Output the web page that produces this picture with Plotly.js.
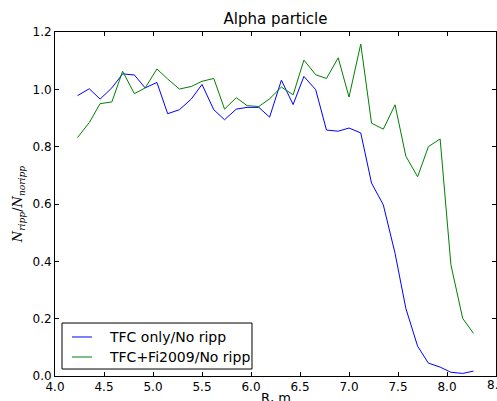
<!DOCTYPE html>
<html>
<head>
<meta charset="utf-8">
<script src="https://cdn.plot.ly/plotly-3.0.1.min.js"></script>
<style>html,body{margin:0;padding:0;background:#fff;}#chart{width:497px;height:401px;}</style>
</head>
<body>
<div id="chart"></div>
<script>
var R = [4.23,4.35,4.46,4.58,4.69,4.81,4.92,5.04,5.15,5.27,5.39,5.50,5.62,5.73,5.85,5.96,
         6.08,6.19,6.31,6.43,6.54,6.66,6.77,6.89,7.00,7.12,7.23,7.35,7.47,7.58,7.70,7.81,
         7.93,8.04,8.16,8.27];
var tfcOnly = [0.978,1.002,0.966,1.005,1.054,1.050,1.005,1.024,0.915,0.929,0.966,1.017,
               0.929,0.894,0.931,0.937,0.937,0.903,1.032,0.947,1.045,0.999,0.858,0.854,
               0.865,0.848,0.673,0.597,0.428,0.236,0.104,0.045,0.031,0.013,0.009,0.017];
var tfcFi = [0.832,0.884,0.950,0.956,1.063,0.985,1.005,1.071,1.036,1.001,1.010,1.028,
             1.038,0.931,0.971,0.943,0.940,0.967,1.008,0.981,1.102,1.051,1.038,1.110,
             0.973,1.158,0.882,0.861,0.946,0.767,0.695,0.800,0.827,0.388,0.201,0.149];
var names = ["TFC only/No ripp", "TFC+Fi2009/No ripp"];
var colors = ['#0000ff', '#008000'];
var xTicks = [4.0,4.5,5.0,5.5,6.0,6.5,7.0,7.5,8.0,8.5];
var xTickText = ['4.0','4.5','5.0','5.5','6.0','6.5','7.0','7.5','8.0','8.5'];
var yTicks = [0,0.2,0.4,0.6,0.8,1.0,1.2];
var yTickText = ['0.0','0.2','0.4','0.6','0.8','1.0','1.2'];
var xTitle = 'R, m';

var traces = [
  {x: R, y: tfcOnly, type: 'scatter', mode: 'lines', name: names[0],
   line: {color: colors[0], width: 1}},
  {x: R, y: tfcFi, type: 'scatter', mode: 'lines', name: names[1],
   line: {color: colors[1], width: 1}}
];
var axisCommon = {
  showgrid: false, zeroline: false, showline: true, linecolor: '#000', linewidth: 1,
  mirror: 'ticks', ticks: 'inside', ticklen: 4, tickcolor: '#000', tickwidth: 1,
  tickfont: {family: 'DejaVu Sans', size: 12, color: '#000'}
};

// manual legend (box, line samples, labels) in paper coordinates
var legRows = [0.1134, 0.0552];
var shapes = [{type: 'rect', xref: 'paper', yref: 'paper', x0: 0.0159, x1: 0.4467,
               y0: 0.0203, y1: 0.154, line: {color: '#000', width: 1}, fillcolor: '#fff',
               layer: 'above'}];
var annotations = [];
names.forEach(function (n, i) {
  shapes.push({type: 'line', xref: 'paper', yref: 'paper', x0: 0.0385, x1: 0.0839,
               y0: legRows[i], y1: legRows[i], line: {color: colors[i], width: 1}, layer: 'above'});
  annotations.push({text: n, xref: 'paper', yref: 'paper', x: 0.1179, y: legRows[i],
                    xanchor: 'left', yanchor: 'middle', showarrow: false,
                    font: {family: 'DejaVu Sans', size: 14, color: '#000'}});
});
// x-axis title placed below tick labels
annotations.push({text: xTitle, xref: 'paper', yref: 'paper', x: 0.5, y: 0,
                  xanchor: 'center', yanchor: 'middle', yshift: -21, showarrow: false,
                  font: {family: 'DejaVu Sans', size: 13, color: '#000'}});
// last tick label at the right edge (partly cut off, as in the reference)
annotations.push({text: xTickText[9], xref: 'x', yref: 'paper', x: xTicks[9], y: 0,
                  xanchor: 'center', yanchor: 'middle', yshift: -9, showarrow: false,
                  font: {family: 'DejaVu Sans', size: 12, color: '#000'}});

var layout = {
  width: 497, height: 401,
  margin: {l: 55, r: 1, t: 32, b: 25},
  paper_bgcolor: '#fff', plot_bgcolor: '#fff',
  showlegend: false,
  title: {text: 'Alpha particle', font: {family: 'DejaVu Sans', size: 15, color: '#000'},
          xref: 'paper', x: 0.5, xanchor: 'center', y: 0.952, yanchor: 'middle'},
  xaxis: Object.assign({}, axisCommon, {
    range: [4.0, 8.5], tickvals: xTicks.slice(0, 9), ticktext: xTickText.slice(0, 9)
  }),
  yaxis: Object.assign({}, axisCommon, {
    range: [0, 1.2], tickvals: yTicks, ticktext: yTickText,
    title: {text: '<i>N</i><sub><i>ripp</i></sub>/<i>N</i><sub><i>noripp</i></sub>',
            font: {family: 'DejaVu Serif', size: 13, color: '#000'}, standoff: 6}
  }),
  shapes: shapes,
  annotations: annotations
};
Plotly.newPlot('chart', traces, layout, {displayModeBar: false, staticPlot: true});
</script>
</body>
</html>
